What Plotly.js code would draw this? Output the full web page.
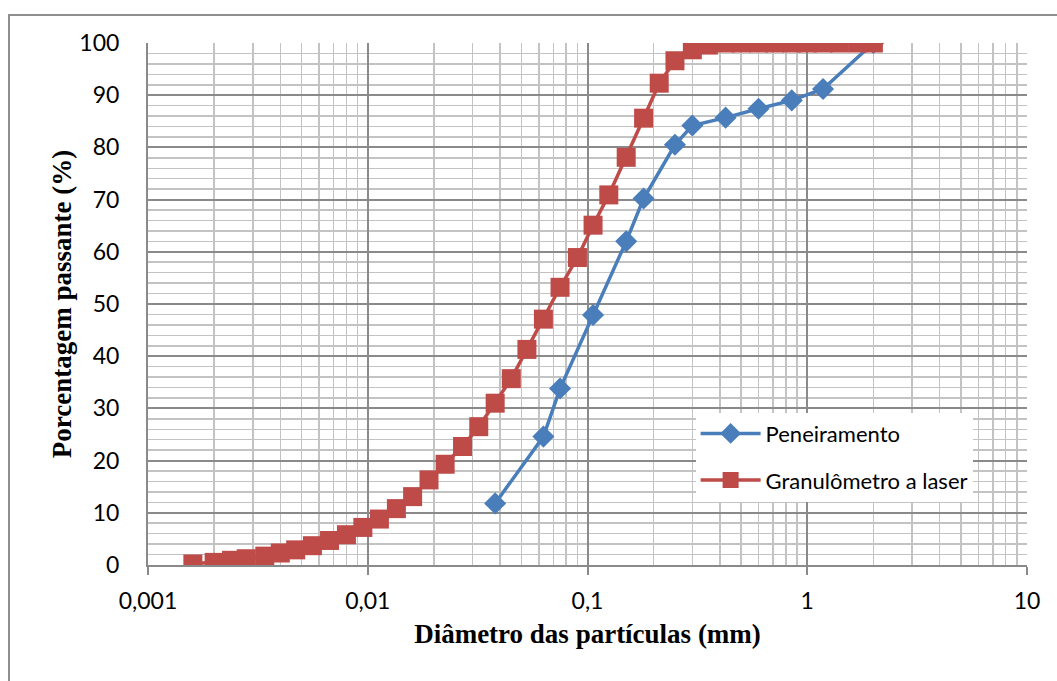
<!DOCTYPE html>
<html>
<head>
<meta charset="utf-8">
<script src="https://cdn.plot.ly/plotly-3.0.1.min.js"></script>
<style>
  html, body { margin: 0; padding: 0; overflow: hidden; background: #fff; }
  #chart { position: absolute; left: 0; top: 0; width: 1057px; height: 681px; }
  #frame { position: absolute; left: 8px; top: 14px; width: 1200px; height: 900px;
           border-left: 2px solid #8e8e8e; border-top: 2px solid #8e8e8e; pointer-events: none; }
</style>
</head>
<body>
<div id="chart"></div>
<div id="frame"></div>
<script>
// Peneiramento (sieve analysis)
const sieveDiam = [0.038, 0.063, 0.075, 0.106, 0.15, 0.18, 0.25, 0.3, 0.425, 0.6, 0.85, 1.18, 2.0];
const sievePass = [11.8, 24.6, 33.8, 47.9, 62.0, 70.2, 80.5, 84.2, 85.7, 87.4, 89.0, 91.2, 100];

// Granulômetro a laser
const laserDiam = [0.0016, 0.002, 0.0024, 0.0028, 0.0034, 0.004, 0.0047, 0.0056, 0.0067, 0.008,
                   0.0095, 0.0113, 0.0135, 0.016, 0.019, 0.0225, 0.027, 0.032, 0.038, 0.045,
                   0.053, 0.063, 0.075, 0.09, 0.106, 0.125, 0.15, 0.18, 0.212, 0.25,
                   0.3, 0.355, 0.425, 0.5, 0.6, 0.71, 0.85, 1.0, 1.18, 1.4, 1.7, 2.0];
const laserPass = [0.2, 0.5, 0.9, 1.2, 1.7, 2.3, 2.9, 3.7, 4.7, 5.8,
                   7.2, 8.8, 10.8, 13.1, 16.3, 19.3, 22.7, 26.5, 31.0, 35.7,
                   41.3, 47.1, 53.2, 58.9, 65.1, 70.9, 78.1, 85.6, 92.3, 96.6,
                   98.7, 99.6, 100, 100, 100, 100, 100, 100, 100, 100, 100, 100];

// Axis tick labels
const xTickVals = [0.001, 0.01, 0.1, 1, 10];
const xTickText = ["0,001", "0,01", "0,1", "1", "10"];
const seriesNames = ["Peneiramento", "Granulômetro a laser"];

// minor gridline positions (layout only)
const minorX = [];
for (const d of [0.001, 0.01, 0.1, 1]) {
  for (let k = 2; k <= 9; k++) minorX.push(+(d * k).toPrecision(3));
}
const minorY = [];
for (let v = 2; v < 100; v += 2) if (v % 10 !== 0) minorY.push(v);

const blue = "#4a7ebb";
const red = "#be4b48";
const major = "#8a8a8a";
const minor = "#c3c3c3";
const serif = "'Liberation Serif', 'Times New Roman', serif";

const traces = [
  {
    x: sieveDiam, y: sievePass, name: seriesNames[0], type: "scatter", mode: "lines+markers",
    line: { color: blue, width: 3.5 },
    marker: { symbol: "diamond", size: 17, color: blue },
    legendgroup: "a"
  },
  {
    x: laserDiam, y: laserPass, name: seriesNames[1], type: "scatter", mode: "lines+markers",
    line: { color: red, width: 3.5 },
    marker: { symbol: "square", size: 19, color: red },
    legendgroup: "b"
  }
];

const layout = {
  width: 1057, height: 681,
  margin: { l: 148, r: 30, t: 43, b: 116 },
  paper_bgcolor: "#ffffff", plot_bgcolor: "#ffffff",
  font: { family: "Lato, 'Open Sans', sans-serif", size: 23, color: "#000" },
  showlegend: true,
  legend: {
    x: 0.623, y: 0.292, xanchor: "left", yanchor: "top",
    bgcolor: "#ffffff", borderwidth: 0,
    font: { family: "Lato, sans-serif", size: 22, color: "#000" },
    traceorder: "grouped", tracegroupgap: 15,
    itemwidth: 60, entrywidth: 330
  },
  xaxis: {
    type: "log", range: [-3, 1],
    tickmode: "array", tickvals: xTickVals, ticktext: xTickText,
    showgrid: true, gridcolor: major, gridwidth: 2,
    showline: true, linecolor: major, linewidth: 2,
    ticks: "outside", ticklen: 8, tickcolor: major, tickwidth: 2,
    ticklabelstandoff: 6,
    minor: { tickmode: "array", tickvals: minorX, showgrid: true, gridcolor: minor, gridwidth: 1.5, ticks: "" },
    zeroline: false,
    title: { text: "Diâmetro das partículas (mm)", standoff: 12,
             font: { family: serif, size: 27, color: "#000", weight: "bold" } }
  },
  yaxis: {
    range: [0, 100], dtick: 10, tick0: 0,
    showgrid: true, gridcolor: major, gridwidth: 2,
    showline: true, linecolor: major, linewidth: 2,
    ticks: "", ticklabelstandoff: 22,
    minor: { tickmode: "array", tickvals: minorY, showgrid: true, gridcolor: minor, gridwidth: 1.5 },
    zeroline: false,
    title: { text: "Porcentagem passante (%)", standoff: 0,
             font: { family: serif, size: 27, color: "#000", weight: "bold" } }
  }
};

Plotly.newPlot("chart", traces, layout, { displayModeBar: false, staticPlot: true });
</script>
</body>
</html>
